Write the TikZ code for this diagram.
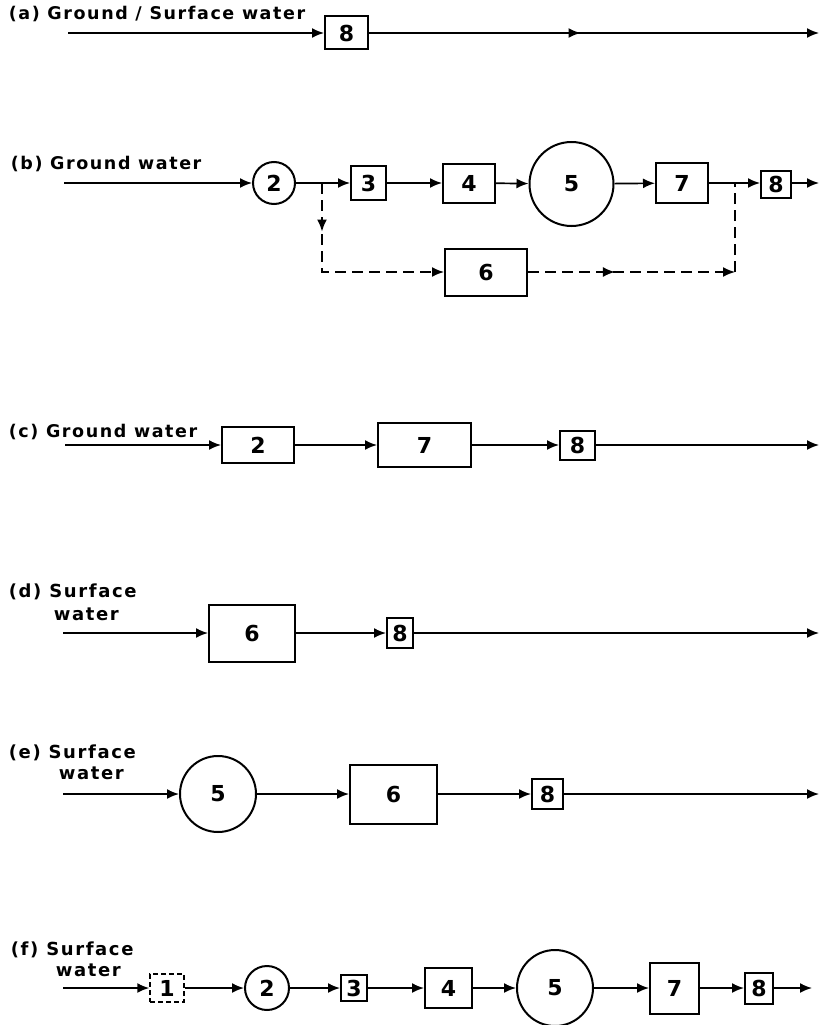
\documentclass[tikz,border=0pt]{standalone}
\usepackage{fontspec}
\setmainfont{DejaVu Sans}
\newfontfamily\lblfam{DejaVu Sans}[LetterSpace=9]
\newcommand\lblA{\lblfam\bfseries\fontsize{17.5}{19}\selectfont}
\newcommand\lblB{\lblfam\bfseries\fontsize{18}{20}\selectfont}
\newcommand\numf{\bfseries\fontsize{22}{22}\selectfont}
\usetikzlibrary{arrows.meta,decorations.markings}
\begin{document}
\begin{tikzpicture}[x=1pt,y=-1pt,line width=1.7pt,
  >={Latex[length=12pt,width=10pt]},
  blk/.style={draw,line width=2pt,rectangle,inner sep=0pt,font=\numf},
  rnd/.style={draw,line width=2pt,circle,inner sep=0pt,font=\numf},
  lbl/.style={anchor=west,inner sep=0pt,font=\lblA},
  lblb/.style={anchor=west,inner sep=0pt,font=\lblB},
  dsh/.style={dash pattern=on 11pt off 6pt},
  midarr/.style={postaction={decorate},decoration={markings,mark=at position #1 with {\arrow{>}}}}]
\useasboundingbox (0,0) rectangle (819,1025);

% ---------- (a)
\node[lbl] (la) at (8,14) {(a) Ground / Surface water};
\coordinate (ain) at (68,33);
\node[blk,minimum width=43pt,minimum height=33pt] (a8) at (346.5,33) {8};
\coordinate (aout) at (819,33);
\draw[->] (ain) -- (a8);
\draw[->,midarr=0.47] (a8) -- (aout);

% ---------- (b)
\node[lbl] (lb) at (10,164) {(b) Ground water};
\coordinate (bin) at (64,183);
\node[rnd,minimum size=42pt] (b2) at (274,183) {2};
\node[blk,minimum width=35pt,minimum height=34pt] (b3) at (368.5,183) {3};
\node[blk,minimum width=52pt,minimum height=39pt] (b4) at (469,183) {4};
\node[rnd,minimum size=84pt] (b5) at (571.5,184) {5};
\node[blk,minimum width=52pt,minimum height=40pt] (b7) at (682,183) {7};
\node[blk,minimum width=30pt,minimum height=27pt] (b8) at (776,184) {8};
\node[blk,minimum width=82pt,minimum height=47pt] (b6) at (486,272) {6};
\coordinate (bout) at (819,183);
\coordinate (bsplit) at (322,183);
\coordinate (bdown) at (322,272);
\coordinate (bright) at (735,272);
\coordinate (bjoin) at (735,183);
\draw[->] (bin) -- (b2);
\draw[->] (b2) -- (b3);
\draw[->] (b3) -- (b4);
\draw[->] (b4) -- (b5);
\draw[->] (b5) -- (b7);
\draw[->] (b7) -- (b8.west |- b7);
\draw[->] (b8.east |- bout) -- (bout);
\draw[dsh,->,midarr=0.23] (bsplit) -- (bdown) -- (b6);
\draw[dsh,->,midarr=0.42] (b6) -- (bright);
\draw[dsh] (bright) -- (bjoin);

% ---------- (c)
\node[lbl] (lc) at (8,432) {(c) Ground water};
\coordinate (cin) at (65,445);
\node[blk,minimum width=72pt,minimum height=36pt] (c2) at (258,445) {2};
\node[blk,minimum width=93pt,minimum height=44pt] (c7) at (424.5,445) {7};
\node[blk,minimum width=35pt,minimum height=29pt] (c8) at (577.5,445) {8};
\coordinate (cout) at (819,445);
\draw[->] (cin) -- (c2);
\draw[->] (c2) -- (c7);
\draw[->] (c7) -- (c8);
\draw[->] (c8) -- (cout);

% ---------- (d)
\node[lblb] (ld1) at (8,592) {(d) Surface};
\node[lblb] (ld2) at (53,614) {water};
\coordinate (din) at (63,633);
\node[blk,minimum width=86pt,minimum height=57pt] (d6) at (252,633) {6};
\node[blk,minimum width=26pt,minimum height=30pt] (d8) at (400,633) {8};
\coordinate (dout) at (819,633);
\draw[->] (din) -- (d6);
\draw[->] (d6) -- (d8);
\draw[->] (d8) -- (dout);

% ---------- (e)
\node[lblb] (le1) at (8,753) {(e) Surface};
\node[lblb] (le2) at (58,773) {water};
\coordinate (ein) at (63,794);
\node[rnd,minimum size=76pt] (e5) at (218,794) {5};
\node[blk,minimum width=87pt,minimum height=59pt] (e6) at (393.5,794) {6};
\node[blk,minimum width=31pt,minimum height=30pt] (e8) at (547.5,794) {8};
\coordinate (eout) at (819,794);
\draw[->] (ein) -- (e5);
\draw[->] (e5) -- (e6);
\draw[->] (e6) -- (e8);
\draw[->] (e8) -- (eout);

% ---------- (f)
\node[lblb] (lf1) at (10,950) {(f) Surface};
\node[lblb] (lf2) at (55,970) {water};
\coordinate (fin) at (63,988);
\node[blk,dash pattern=on 5pt off 3pt,line width=1.5pt,minimum width=34pt,minimum height=28pt] (f1) at (167,988) {1};
\node[rnd,minimum size=44pt] (f2) at (267,988) {2};
\node[blk,minimum width=26pt,minimum height=26pt] (f3) at (354,988) {3};
\node[blk,minimum width=47pt,minimum height=40pt] (f4) at (448.5,988) {4};
\node[rnd,minimum size=76pt] (f5) at (555,988) {5};
\node[blk,minimum width=49pt,minimum height=51pt] (f7) at (674.5,988) {7};
\node[blk,minimum width=28pt,minimum height=31pt] (f8) at (759,988) {8};
\coordinate (fout) at (812,988);
\draw[->] (fin) -- (f1);
\draw[->] (f1) -- (f2);
\draw[->] (f2) -- (f3);
\draw[->] (f3) -- (f4);
\draw[->] (f4) -- (f5);
\draw[->] (f5) -- (f7);
\draw[->] (f7) -- (f8);
\draw[->] (f8) -- (fout);
\end{tikzpicture}
\end{document}
